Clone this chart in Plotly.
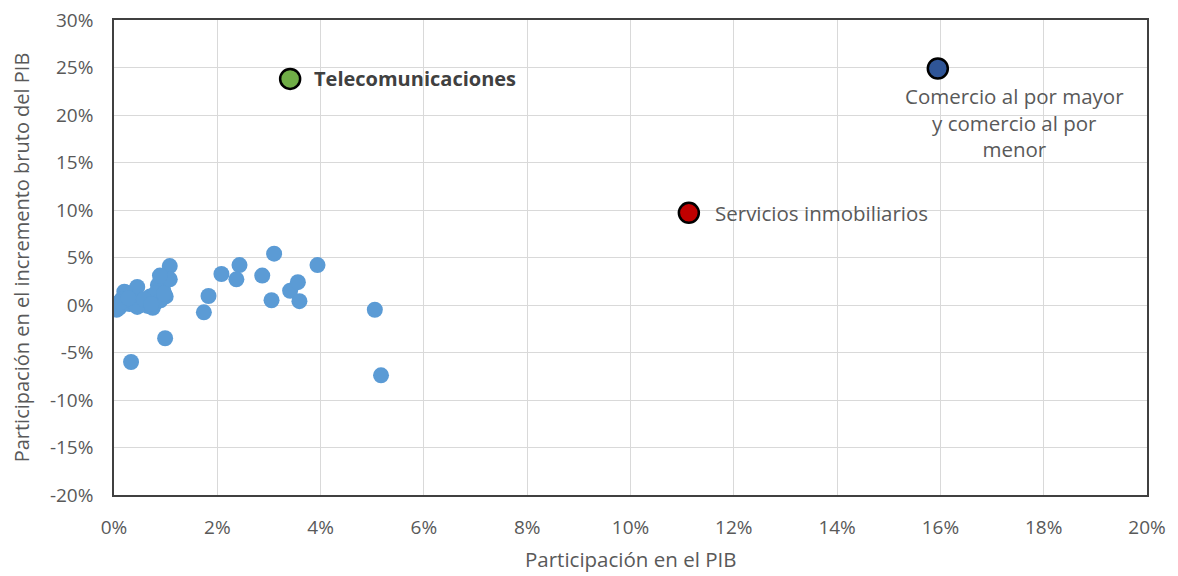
import plotly.graph_objects as go

# Small sectors (share of GDP %, share of gross GDP increase %)
small_x = [0.0, 0.1, 0.2, 0.25, 0.4, 0.45, 0.55, 0.7, 0.8, 0.9, 0.95, 1.0, 0.85, 0.2, 0.3,
           0.5, 0.65, 0.75, 0.15, 0.35, 0.6, 0.05, 0.45, 0.8, 0.9, 0.97, 0.12, 0.28, 0.58, 0.72,
           1.08, 1.08, 0.89, 0.99, 0.33,
           1.74, 1.83, 2.08, 2.43, 2.37, 2.87, 3.10, 3.05, 3.41, 3.56, 3.59, 3.94, 5.05, 5.17]
small_y = [0.1, -0.3, 0.9, 1.3, 1.1, 1.9, 0.5, 0.9, 0.2, 0.8, 1.6, 0.9, 2.1, 1.4, 0.1,
           0.0, -0.1, -0.3, 0.6, 0.4, 0.3, -0.5, -0.2, 1.2, 0.5, 1.2, 0.3, 0.7, 0.6, 0.1,
           4.1, 2.7, 3.1, -3.5, -6.0,
           -0.77, 0.95, 3.26, 4.2, 2.7, 3.1, 5.4, 0.5, 1.5, 2.4, 0.4, 4.2, -0.5, -7.4]

hl_names = ["Telecomunicaciones", "Servicios inmobiliarios", "Comercio al por mayor<br>y comercio al por<br>menor"]
hl_x = [3.41, 11.13, 15.95]
hl_y = [23.8, 9.7, 24.9]
hl_colors = ["#70AD47", "#C00000", "#2F5597"]

x_ticks = [0, 2, 4, 6, 8, 10, 12, 14, 16, 18, 20]
y_ticks = [-20, -15, -10, -5, 0, 5, 10, 15, 20, 25, 30]
x_title = "Participación en el PIB"
y_title = "Participación en el incremento bruto del PIB"

fig = go.Figure()
fig.add_trace(go.Scatter(x=small_x, y=small_y, mode="markers",
                         marker=dict(size=16, color="#5B9BD5", line=dict(width=0)),
                         showlegend=False, hoverinfo="skip"))
for n, x, y, c in zip(hl_names, hl_x, hl_y, hl_colors):
    fig.add_trace(go.Scatter(x=[x], y=[y], mode="markers",
                             marker=dict(size=20, color=c, line=dict(width=2.5, color="#000000")),
                             showlegend=False))

fig.add_annotation(x=hl_x[0], y=hl_y[0], text="<b>Telecomunicaciones</b>", showarrow=False,
                   xanchor="left", xshift=22, font=dict(size=20, color="#404040"))
fig.add_annotation(x=hl_x[1], y=hl_y[1], text="Servicios inmobiliarios", showarrow=False,
                   xanchor="left", xshift=24, font=dict(size=20.5, color="#595959"))
fig.add_annotation(x=hl_x[2], y=hl_y[2], text=hl_names[2], showarrow=False,
                   xanchor="center", yanchor="top", xshift=77, yshift=-12, align="center",
                   font=dict(size=20.5, color="#595959"))
# x-axis title placed as paper annotation for precise position
fig.add_annotation(xref="paper", yref="paper", x=0.5, y=0, text=x_title, showarrow=False,
                   xanchor="center", yanchor="middle", yshift=-64,
                   font=dict(size=20.5, color="#595959"))

font_family = "Open Sans, Liberation Sans, sans-serif"
fig.update_layout(
    width=1162, height=568,
    margin=dict(l=106, r=23, t=12, b=81),
    plot_bgcolor="white", paper_bgcolor="white",
    font=dict(family=font_family, color="#595959", size=19),
    xaxis=dict(range=[0, 20], tickvals=x_ticks, ticktext=[f"{v}%" for v in x_ticks],
               showgrid=True, gridcolor="#D9D9D9", automargin=False,
               zeroline=False, showline=True, linecolor="#404040", linewidth=1.5, mirror=True,
               tickfont=dict(size=19), ticks="", ticklabelstandoff=14, ticklabeloverflow="allow"),
    yaxis=dict(range=[-20, 30], tickvals=y_ticks, ticktext=[f"{v}%" for v in y_ticks],
               showgrid=True, gridcolor="#D9D9D9", automargin=False,
               zeroline=False, showline=True, linecolor="#404040", linewidth=1.5, mirror=True,
               title=dict(text=y_title, font=dict(size=20)),
               tickfont=dict(size=19), ticks="", ticklabelstandoff=15, ticklabeloverflow="allow"),
)
fig.write_html("out.html")
